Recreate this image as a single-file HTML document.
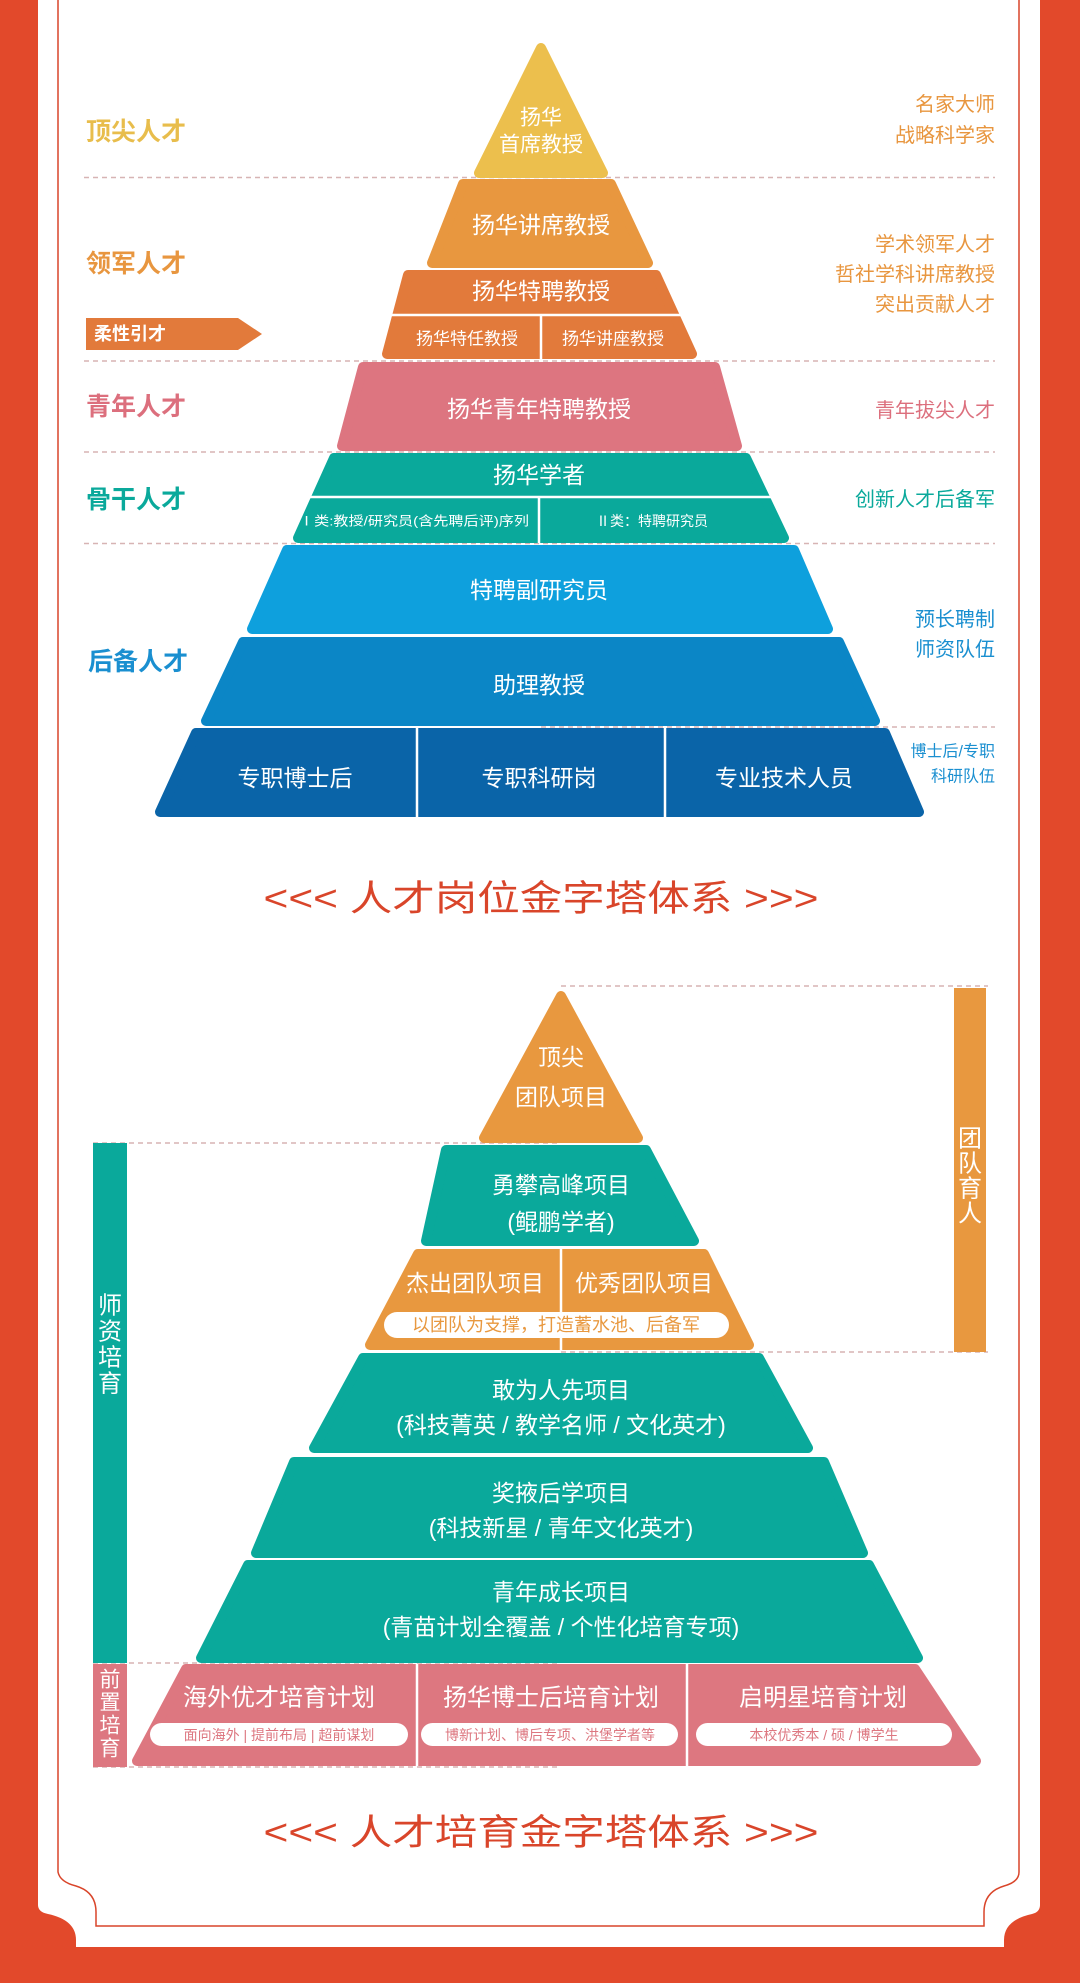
<!DOCTYPE html>
<html><head><meta charset="utf-8"><style>
html,body{margin:0;padding:0;background:#e2492b;}
svg{display:block}
text{font-family:"Liberation Sans","Noto Sans CJK SC",sans-serif;dominant-baseline:central;text-anchor:middle}
</style></head><body>
<svg width="1080" height="1983" viewBox="0 0 1080 1983" xmlns="http://www.w3.org/2000/svg">
<rect width="1080" height="1983" fill="#e2492b"/>
<!-- white panel -->
<path d="M38 0 H1040 V1905 Q1040 1912 1032 1914 Q1004 1920 1004 1940 V1947 H76 V1940 Q76 1920 48 1914 Q38 1912 38 1905 Z" fill="#fff"/>
<path d="M58 0 V1872 Q60 1882 76 1886 Q96 1892 96 1912 V1926 H984 V1912 Q984 1892 1004 1886 Q1019 1882 1019 1872 V0" fill="none" stroke="#d9452a" stroke-width="1.5"/>

<!-- dashed lines pyramid 1 -->
<g stroke="#d7b4b4" stroke-width="1.5" stroke-dasharray="5,4">
<line x1="84" y1="177.5" x2="995" y2="177.5"/>
<line x1="84" y1="361" x2="995" y2="361"/>
<line x1="84" y1="452" x2="995" y2="452"/>
<line x1="84" y1="543.5" x2="995" y2="543.5"/>
<line x1="541" y1="727" x2="995" y2="727"/>
</g>

<g stroke-linejoin="round" stroke-width="10">
<polygon points="541,48 479,173 603,173" fill="#ecbf4d" stroke="#ecbf4d"/>
<polygon points="463,184 611,184 648,263 432,263" fill="#e8973f" stroke="#e8973f"/>
<polygon points="408,275 656,275 692,354 387,354" fill="#e27a3b" stroke="#e27a3b"/>
<polygon points="363,367 715,367 737,446 342,446" fill="#dd7580" stroke="#dd7580"/>
<polygon points="334,458 746,458 784,538 298,538" fill="#0aa99b" stroke="#0aa99b"/>
<polygon points="287,550 794,550 828,629 252,629" fill="#0ea0dd" stroke="#0ea0dd"/>
<polygon points="243,642 839,642 875,721 206,721" fill="#0b86c6" stroke="#0b86c6"/>
<polygon points="196,733 885,733 919,812 160,812" fill="#0a64a8" stroke="#0a64a8"/>
</g>
<g stroke="#fff" stroke-width="2.5">
<line x1="385" y1="315" x2="690" y2="315"/>
<line x1="541" y1="315" x2="541" y2="359"/>
<line x1="300" y1="497" x2="780" y2="497"/>
<line x1="539" y1="497" x2="539" y2="543"/>
<line x1="417" y1="728" x2="417" y2="817"/>
<line x1="665" y1="728" x2="665" y2="817"/>
</g>

<g fill="#fff">
<text x="541" y="118" font-size="21">扬华</text>
<text x="541" y="145" font-size="21">首席教授</text>
<text x="541" y="225" font-size="23">扬华讲席教授</text>
<text x="541" y="291" font-size="23">扬华特聘教授</text>
<text x="467" y="339" font-size="17">扬华特任教授</text>
<text x="613" y="339" font-size="17">扬华讲座教授</text>
<text x="539" y="409" font-size="23">扬华青年特聘教授</text>
<text x="539" y="475" font-size="23">扬华学者</text>
<text x="414" y="521" font-size="13" textLength="230" lengthAdjust="spacingAndGlyphs">Ⅰ类:教授/研究员(含先聘后评)序列</text>
<text x="652" y="521" font-size="14">Ⅱ类：特聘研究员</text>
<text x="539" y="590" font-size="23">特聘副研究员</text>
<text x="539" y="685" font-size="23">助理教授</text>
<text x="295" y="778" font-size="23">专职博士后</text>
<text x="539" y="778" font-size="23">专职科研岗</text>
<text x="784" y="778" font-size="23">专业技术人员</text>
</g>

<!-- left labels -->
<g font-weight="bold" font-size="25" style="text-anchor:start">
<text x="86" y="132" fill="#e8bd4c" style="text-anchor:start">顶尖人才</text>
<text x="86" y="264" fill="#e8963f" style="text-anchor:start">领军人才</text>
<text x="86" y="407" fill="#dc6f7d" style="text-anchor:start">青年人才</text>
<text x="86" y="500" fill="#0aa99b" style="text-anchor:start">骨干人才</text>
<text x="88" y="662" fill="#1a8fd0" style="text-anchor:start">后备人才</text>
</g>
<polygon points="86,318 238,318 262,334 238,350 86,350" fill="#e27a3b"/>
<text x="94" y="334" font-size="18" font-weight="bold" fill="#fff" style="text-anchor:start">柔性引才</text>

<!-- right labels -->
<g font-size="20" style="text-anchor:end">
<text x="995" y="105" fill="#e8963f" style="text-anchor:end">名家大师</text>
<text x="995" y="136" fill="#e8963f" style="text-anchor:end">战略科学家</text>
<text x="995" y="245" fill="#e8963f" style="text-anchor:end">学术领军人才</text>
<text x="995" y="275" fill="#e8963f" style="text-anchor:end">哲社学科讲席教授</text>
<text x="995" y="305" fill="#e8963f" style="text-anchor:end">突出贡献人才</text>
<text x="995" y="411" fill="#dc6f7d" style="text-anchor:end">青年拔尖人才</text>
<text x="995" y="500" fill="#0aa99b" style="text-anchor:end">创新人才后备军</text>
<text x="995" y="620" fill="#1a8fd0" style="text-anchor:end">预长聘制</text>
<text x="995" y="650" fill="#1a8fd0" style="text-anchor:end">师资队伍</text>
<text x="995" y="752" fill="#1a8fd0" font-size="16" style="text-anchor:end">博士后/专职</text>
<text x="995" y="777" fill="#1a8fd0" font-size="16" style="text-anchor:end">科研队伍</text>
</g>

<text x="541" y="898" font-size="36" fill="#d9452a" textLength="555" lengthAdjust="spacingAndGlyphs">&lt;&lt;&lt; 人才岗位金字塔体系 &gt;&gt;&gt;</text>

<!-- pyramid 2 dashed -->
<g stroke="#d7b4b4" stroke-width="1.5" stroke-dasharray="5,4">
<line x1="561" y1="986" x2="988" y2="986"/>
<line x1="93" y1="1143" x2="558" y2="1143"/>
<line x1="561" y1="1352" x2="988" y2="1352"/>
<line x1="93" y1="1663" x2="558" y2="1663"/>
<line x1="93" y1="1767" x2="558" y2="1767"/>
</g>
<rect x="954" y="988" width="32" height="364" fill="#e8983f"/>
<rect x="93" y="1143" width="34" height="520" fill="#0aa99b"/>
<rect x="93" y="1664" width="34" height="103" fill="#dd7780"/>
<g fill="#fff" font-size="24">
<text x="970" y="1139">团</text><text x="970" y="1164">队</text><text x="970" y="1189">育</text><text x="970" y="1214">人</text>
<text x="110" y="1306">师</text><text x="110" y="1332">资</text><text x="110" y="1358">培</text><text x="110" y="1384">育</text>
<text x="110" y="1680" font-size="21">前</text><text x="110" y="1703" font-size="21">置</text><text x="110" y="1726" font-size="21">培</text><text x="110" y="1749" font-size="21">育</text>
</g>

<g stroke-linejoin="round" stroke-width="10">
<polygon points="561,996 484,1138 638,1138" fill="#e8983f" stroke="#e8983f"/>
<polygon points="446,1150 646,1150 694,1241 426,1241" fill="#0aa99b" stroke="#0aa99b"/>
<polygon points="418,1254 704,1254 749,1345 370,1345" fill="#e8983f" stroke="#e8983f"/>
<polygon points="363,1358 759,1358 808,1448 314,1448" fill="#0aa99b" stroke="#0aa99b"/>
<polygon points="294,1462 824,1462 863,1553 256,1553" fill="#0aa99b" stroke="#0aa99b"/>
<polygon points="248,1565 869,1565 918,1658 201,1658" fill="#0aa99b" stroke="#0aa99b"/>
<polygon points="186,1669 915,1669 976,1761 137,1761" fill="#dd7780" stroke="#dd7780"/>
</g>
<g stroke="#fff" stroke-width="2.5">
<line x1="561" y1="1249" x2="561" y2="1350"/>
<line x1="417" y1="1664" x2="417" y2="1766"/>
<line x1="687" y1="1664" x2="687" y2="1766"/>
</g>
<rect x="384" y="1312" width="345" height="26" rx="13" fill="#fff"/>
<rect x="150" y="1723" width="258" height="23" rx="11.5" fill="#fff"/>
<rect x="421" y="1723" width="257" height="23" rx="11.5" fill="#fff"/>
<rect x="696" y="1723" width="256" height="23" rx="11.5" fill="#fff"/>

<g fill="#fff" font-size="23">
<text x="561" y="1057">顶尖</text>
<text x="561" y="1097">团队项目</text>
<text x="561" y="1185">勇攀高峰项目</text>
<text x="561" y="1222">(鲲鹏学者)</text>
<text x="475" y="1283">杰出团队项目</text>
<text x="644" y="1283">优秀团队项目</text>
<text x="561" y="1390">敢为人先项目</text>
<text x="561" y="1425">(科技菁英 / 教学名师 / 文化英才)</text>
<text x="561" y="1493">奖掖后学项目</text>
<text x="561" y="1528">(科技新星 / 青年文化英才)</text>
<text x="561" y="1592">青年成长项目</text>
<text x="561" y="1627">(青苗计划全覆盖 / 个性化培育专项)</text>
<text x="279" y="1698" font-size="24">海外优才培育计划</text>
<text x="551" y="1698" font-size="24">扬华博士后培育计划</text>
<text x="823" y="1698" font-size="24">启明星培育计划</text>
</g>
<text x="556" y="1325" font-size="18" fill="#e8983f">以团队为支撑，打造蓄水池、后备军</text>
<g fill="#dd7780" font-size="14">
<text x="279" y="1735">面向海外 | 提前布局 | 超前谋划</text>
<text x="550" y="1735">博新计划、博后专项、洪堡学者等</text>
<text x="824" y="1735">本校优秀本 / 硕 / 博学生</text>
</g>

<text x="541" y="1832" font-size="36" fill="#d9452a" textLength="555" lengthAdjust="spacingAndGlyphs">&lt;&lt;&lt; 人才培育金字塔体系 &gt;&gt;&gt;</text>
</svg>
</body></html>
